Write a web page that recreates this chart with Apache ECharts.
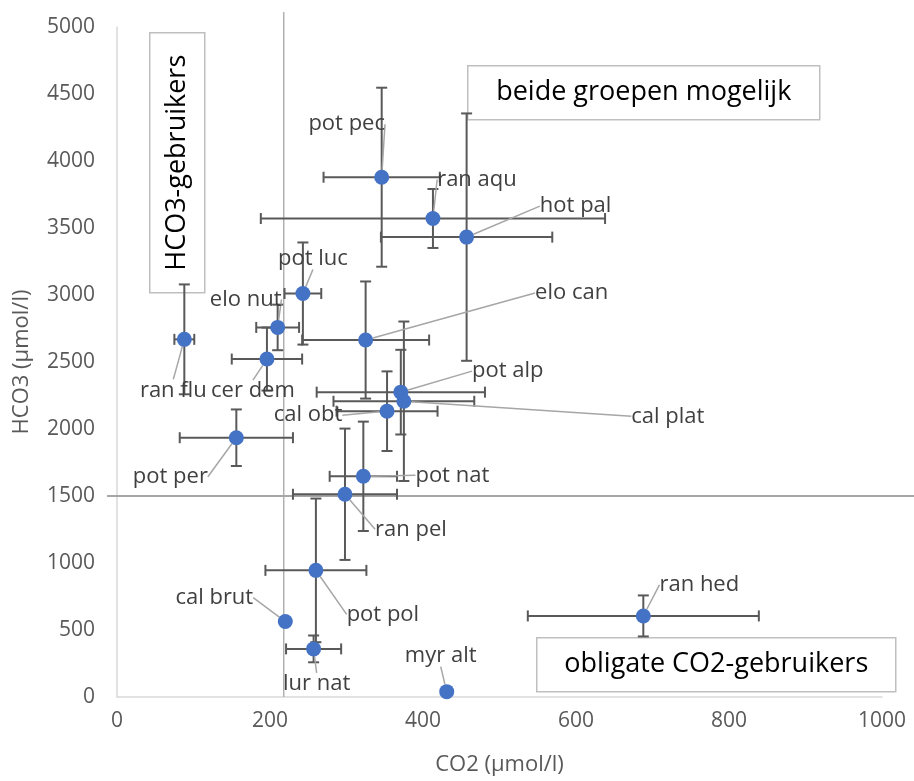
<!DOCTYPE html>
<html>
<head>
<meta charset="utf-8">
<script src="https://cdn.jsdelivr.net/npm/echarts@6.0.0/dist/echarts.min.js"></script>
<style>
  html, body { margin: 0; padding: 0; background: #fff; }
  #chart { width: 914px; height: 781px; }
</style>
</head>
<body>
<div id="chart"></div>
<script>
// soort, CO2 (umol/l), HCO3 (umol/l) en de foutmarges
const names = ['pot pec', 'ran aqu', 'hot pal', 'pot luc', 'elo nut', 'ran flu', 'cer dem', 'elo can', 'pot alp', 'cal plat',
  'cal obt', 'pot per', 'pot nat', 'ran pel', 'pot pol', 'cal brut', 'lur nat', 'myr alt', 'ran hed'];
const co2 = [346, 413, 457, 243, 210, 88, 196, 325, 371, 375, 353, 156, 322, 298, 260, 220, 257, 431, 688];
const hco3 = [3879, 3571, 3432, 3011, 2758, 2669, 2522, 2664, 2275, 2207, 2133, 1935, 1647, 1513, 945, 563, 359, 40, 605];
const co2Err = [76, 225, 112, 24, 28, 13, 46, 83, 110, 92, 66, 74, 44, 68, 66, 0, 36, 0, 151];
const hco3Err = [668, 220, 923, 381, 170, 410, 235, 437, 316, 595, 297, 211, 408, 490, 536, 0, 100, 0, 153];

// grenslijnen: [x1, y1, x2, y2]
const refLines = [
  [-13, 1500, 1042, 1500],
  [218, 0, 218, 5112]
];

// waar de labels staan t.o.v. het punt (px)
const labelOffsets = [[-35, -53], [44, -39], [109, -31], [10, -35], [-32, -28], [-11, 51], [-14, 32], [206, -47],
  [107, -21], [264, 15], [-79, 4], [-66, 39], [89, -1], [66, 35], [67, 44], [-71, -24], [3, 35], [-6, -36], [56, -31]];

const font = 'Open Sans';
const points = names.map((n, i) => [co2[i], hco3[i]]);
const bars = names.map((n, i) => [co2[i], hco3[i], co2Err[i], hco3Err[i]]);

function renderErrorBar(params, api) {
  const x = api.value(0);
  const y = api.value(1);
  const ex = api.value(2);
  const ey = api.value(3);
  const c = api.coord([x, y]);
  const style = { stroke: '#595959', lineWidth: 2 };
  const cap = 5.5;
  const children = [];
  if (ex > 0) {
    const l = api.coord([x - ex, y])[0];
    const r = api.coord([x + ex, y])[0];
    children.push({ type: 'line', shape: { x1: l, y1: c[1], x2: r, y2: c[1] }, style });
    children.push({ type: 'line', shape: { x1: l, y1: c[1] - cap, x2: l, y2: c[1] + cap }, style });
    children.push({ type: 'line', shape: { x1: r, y1: c[1] - cap, x2: r, y2: c[1] + cap }, style });
  }
  if (ey > 0) {
    const t = api.coord([x, y + ey])[1];
    const b = api.coord([x, y - ey])[1];
    children.push({ type: 'line', shape: { x1: c[0], y1: t, x2: c[0], y2: b }, style });
    children.push({ type: 'line', shape: { x1: c[0] - cap, y1: t, x2: c[0] + cap, y2: t }, style });
    children.push({ type: 'line', shape: { x1: c[0] - cap, y1: b, x2: c[0] + cap, y2: b }, style });
  }
  return { type: 'group', children };
}

function renderRefLine(params, api) {
  const a = api.coord([api.value(0), api.value(1)]);
  const b = api.coord([api.value(2), api.value(3)]);
  const horizontal = a[1] === b[1];
  return {
    type: 'line',
    shape: { x1: a[0], y1: a[1], x2: b[0], y2: b[1] },
    style: { stroke: '#a6a6a6', lineWidth: horizontal ? 2 : 1.3 }
  };
}

function textBox(left, top, w, h, text, rotate) {
  return {
    type: 'group',
    left: left,
    top: top,
    children: [
      { type: 'rect', shape: { x: 0, y: 0, width: w, height: h }, style: { fill: '#fff', stroke: '#bfbfbf', lineWidth: 1.5 } },
      {
        type: 'text',
        x: w / 2,
        y: h / 2,
        rotation: rotate ? Math.PI / 2 : 0,
        style: { text: text, fill: '#000', font: '27px "' + font + '"', align: 'center', verticalAlign: 'middle' }
      }
    ]
  };
}

const chart = echarts.init(document.getElementById('chart'));
chart.setOption({
  animation: false,
  textStyle: { fontFamily: font },
  grid: { left: 117, right: 32, top: 27, bottom: 82, containLabel: false },
  xAxis: {
    type: 'value',
    min: 0,
    max: 1000,
    interval: 200,
    name: 'CO2 (µmol/l)',
    nameLocation: 'middle',
    nameGap: 57,
    nameTextStyle: { color: '#595959', fontSize: 22, fontFamily: font },
    axisLine: { show: true, lineStyle: { color: '#d9d9d9', width: 1.5 } },
    axisTick: { show: false },
    splitLine: { show: false },
    axisLabel: { color: '#595959', fontSize: 21, margin: 14, fontFamily: font, formatter: v => String(v) }
  },
  yAxis: {
    type: 'value',
    min: 0,
    max: 5000,
    interval: 500,
    name: 'HCO3 (µmol/l)',
    nameLocation: 'middle',
    nameRotate: 90,
    nameGap: 84,
    nameTextStyle: { color: '#595959', fontSize: 22, fontFamily: font },
    axisLine: { show: true, lineStyle: { color: '#d9d9d9', width: 1.5 } },
    axisTick: { show: false },
    splitLine: { show: false },
    axisLabel: { color: '#595959', fontSize: 21, margin: 22, fontFamily: font, formatter: v => String(v) }
  },
  series: [
    {
      type: 'custom',
      data: refLines,
      renderItem: renderRefLine,
      encode: { x: [0, 2], y: [1, 3] },
      clip: false,
      silent: true,
      z: 1
    },
    {
      type: 'custom',
      data: bars,
      renderItem: renderErrorBar,
      encode: { x: 0, y: 1 },
      clip: false,
      silent: true,
      z: 2
    },
    {
      type: 'scatter',
      data: points,
      symbolSize: 15,
      z: 3,
      itemStyle: { color: '#4472c4', opacity: 1 },
      label: {
        show: true,
        position: 'inside',
        formatter: p => names[p.dataIndex],
        color: '#404040',
        fontSize: 22,
        fontFamily: font
      },
      labelLine: { show: true, lineStyle: { color: '#a6a6a6', width: 1.5 } },
      labelLayout: p => ({ dx: labelOffsets[p.dataIndex][0], dy: labelOffsets[p.dataIndex][1] })
    }
  ],
  graphic: [
    textBox(149, 32, 55, 260, 'HCO3-gebruikers', true),
    textBox(467, 65, 352, 54, 'beide groepen mogelijk', false),
    textBox(536, 637, 359, 54, 'obligate CO2-gebruikers', false)
  ]
});
</script>
</body>
</html>
